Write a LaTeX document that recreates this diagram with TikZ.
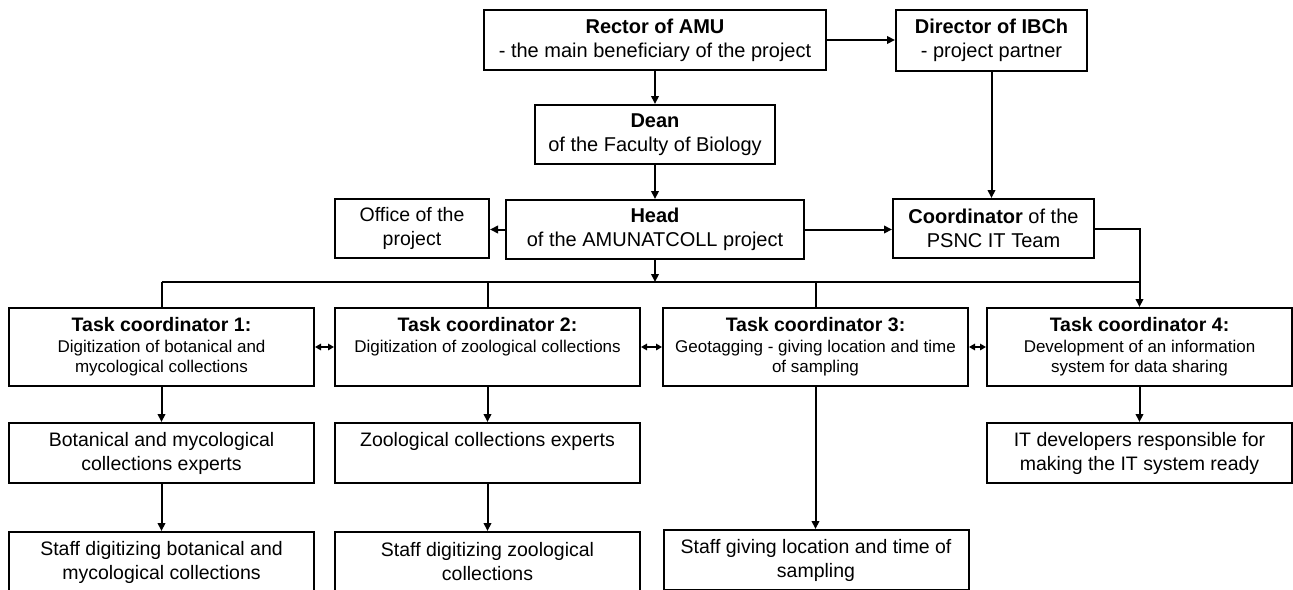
\documentclass[tikz,border=0pt]{standalone}
\usepackage{fontspec}
\setmainfont{Liberation Sans}
\usetikzlibrary{arrows.meta}
\newcommand\tctitle[1]{{\fontsize{19.5}{20.5}\selectfont\bfseries #1}}
\begin{document}
\begin{tikzpicture}[x=1pt,y=-1pt,
  box/.style={draw,line width=2pt,inner sep=0pt,align=center,font=\fontsize{20}{24}\selectfont},
  tcbox/.style={box,minimum width=305pt,minimum height=78pt,font=\fontsize{17}{20.5}\selectfont},
  lowbox/.style={box,minimum width=305pt,minimum height=60pt,font=\fontsize{19.5}{24}\selectfont},
  conn/.style={line width=2pt},
  arr/.style={conn,-{Triangle[length=8pt,width=7.5pt]}},
  darr/.style={conn,{Triangle[length=6pt,width=6.5pt]}-{Triangle[length=6pt,width=6.5pt]}}]
\fill[white] (0,0) rectangle (1293,589);
\useasboundingbox (0,0) rectangle (1293,589);
\clip (0,0) rectangle (1293,589);

% top rows
\node[box,minimum width=342pt,minimum height=60pt] (rector) at (655,40) {\textbf{Rector of AMU}\\- the main beneficiary of the project};
\node[box,minimum width=191pt,minimum height=61pt] (director) at (991.5,40.5) {\textbf{Director of IBCh}\\- project partner};
\node[box,minimum width=240pt,minimum height=59pt] (dean) at (655,134.5) {\textbf{Dean}\\of the Faculty of Biology};
\node[box,minimum width=298pt,minimum height=59pt] (head) at (655,229.5) {\textbf{Head}\\of the AMUNATCOLL project};
\node[box,font=\fontsize{19.5}{24}\selectfont,minimum width=154pt,minimum height=59pt] (office) at (412,228.5) {Office of the\\project};
\node[box,minimum width=201pt,minimum height=59pt] (coord) at (993.5,228.5) {\textbf{Coordinator} of the\\PSNC IT Team};

% task coordinators
\node[tcbox] (tc1) at (161.5,347) {\tctitle{Task coordinator 1:}\\Digitization of botanical and\\mycological collections};
\node[tcbox] (tc2) at (487.5,347) {\tctitle{Task coordinator 2:}\\Digitization of zoological collections\\\vphantom{gy}};
\node[tcbox] (tc3) at (815.5,347) {\tctitle{Task coordinator 3:}\\Geotagging - giving location and time\\of sampling};
\node[tcbox] (tc4) at (1139.5,347) {\tctitle{Task coordinator 4:}\\Development of an information\\system for data sharing};

% lower rows
\node[lowbox] (exp1) at (161.5,453) {Botanical and mycological\\collections experts};
\node[lowbox] (exp2) at (487.5,453) {Zoological collections experts\\\vphantom{gy}};
\node[lowbox] (itdev) at (1139.5,453) {IT developers responsible for\\making the IT system ready};
\node[lowbox] (staff1) at (161.5,562) {Staff digitizing botanical and\\mycological collections};
\node[lowbox] (staff2) at (487.5,562) {Staff digitizing zoological\\collections};
\node[lowbox] (staff3) at (816,560) {Staff giving location and time of\\sampling};

% bus coordinates
\coordinate (bus1) at (161.5,282);
\coordinate (bus2) at (487.5,282);
\coordinate (bus3) at (815.5,282);
\coordinate (bus4) at (1139.5,282);
\coordinate (busM) at (655,282);

% connectors
\draw[arr] (rector.east) -- (rector.east -| director.west);
\draw[arr] (rector.south) -- (dean.north);
\draw[arr] (dean.south) -- (head.north);
\draw[arr] (director.south) -- (director.south |- coord.north);
\draw[arr] (head.west) -- (head.west -| office.east);
\draw[arr] (head.east) -- (head.east -| coord.west);
\draw[arr] (head.south) -- (busM);
\draw[conn] (bus1) -- (bus4);
\draw[conn] (bus1) -- (tc1.north);
\draw[conn] (bus2) -- (tc2.north);
\draw[conn] (bus3) -- (tc3.north);
\draw[arr] (coord.east) -| (tc4.north);
\draw[darr] (tc1.east) -- (tc2.west);
\draw[darr] (tc2.east) -- (tc3.west);
\draw[darr] (tc3.east) -- (tc4.west);
\draw[arr] (tc1.south) -- (exp1.north);
\draw[arr] (exp1.south) -- (staff1.north);
\draw[arr] (tc2.south) -- (exp2.north);
\draw[arr] (exp2.south) -- (staff2.north);
\draw[arr] (tc3.south) -- (tc3.south |- staff3.north);
\draw[arr] (tc4.south) -- (itdev.north);
\end{tikzpicture}
\end{document}
